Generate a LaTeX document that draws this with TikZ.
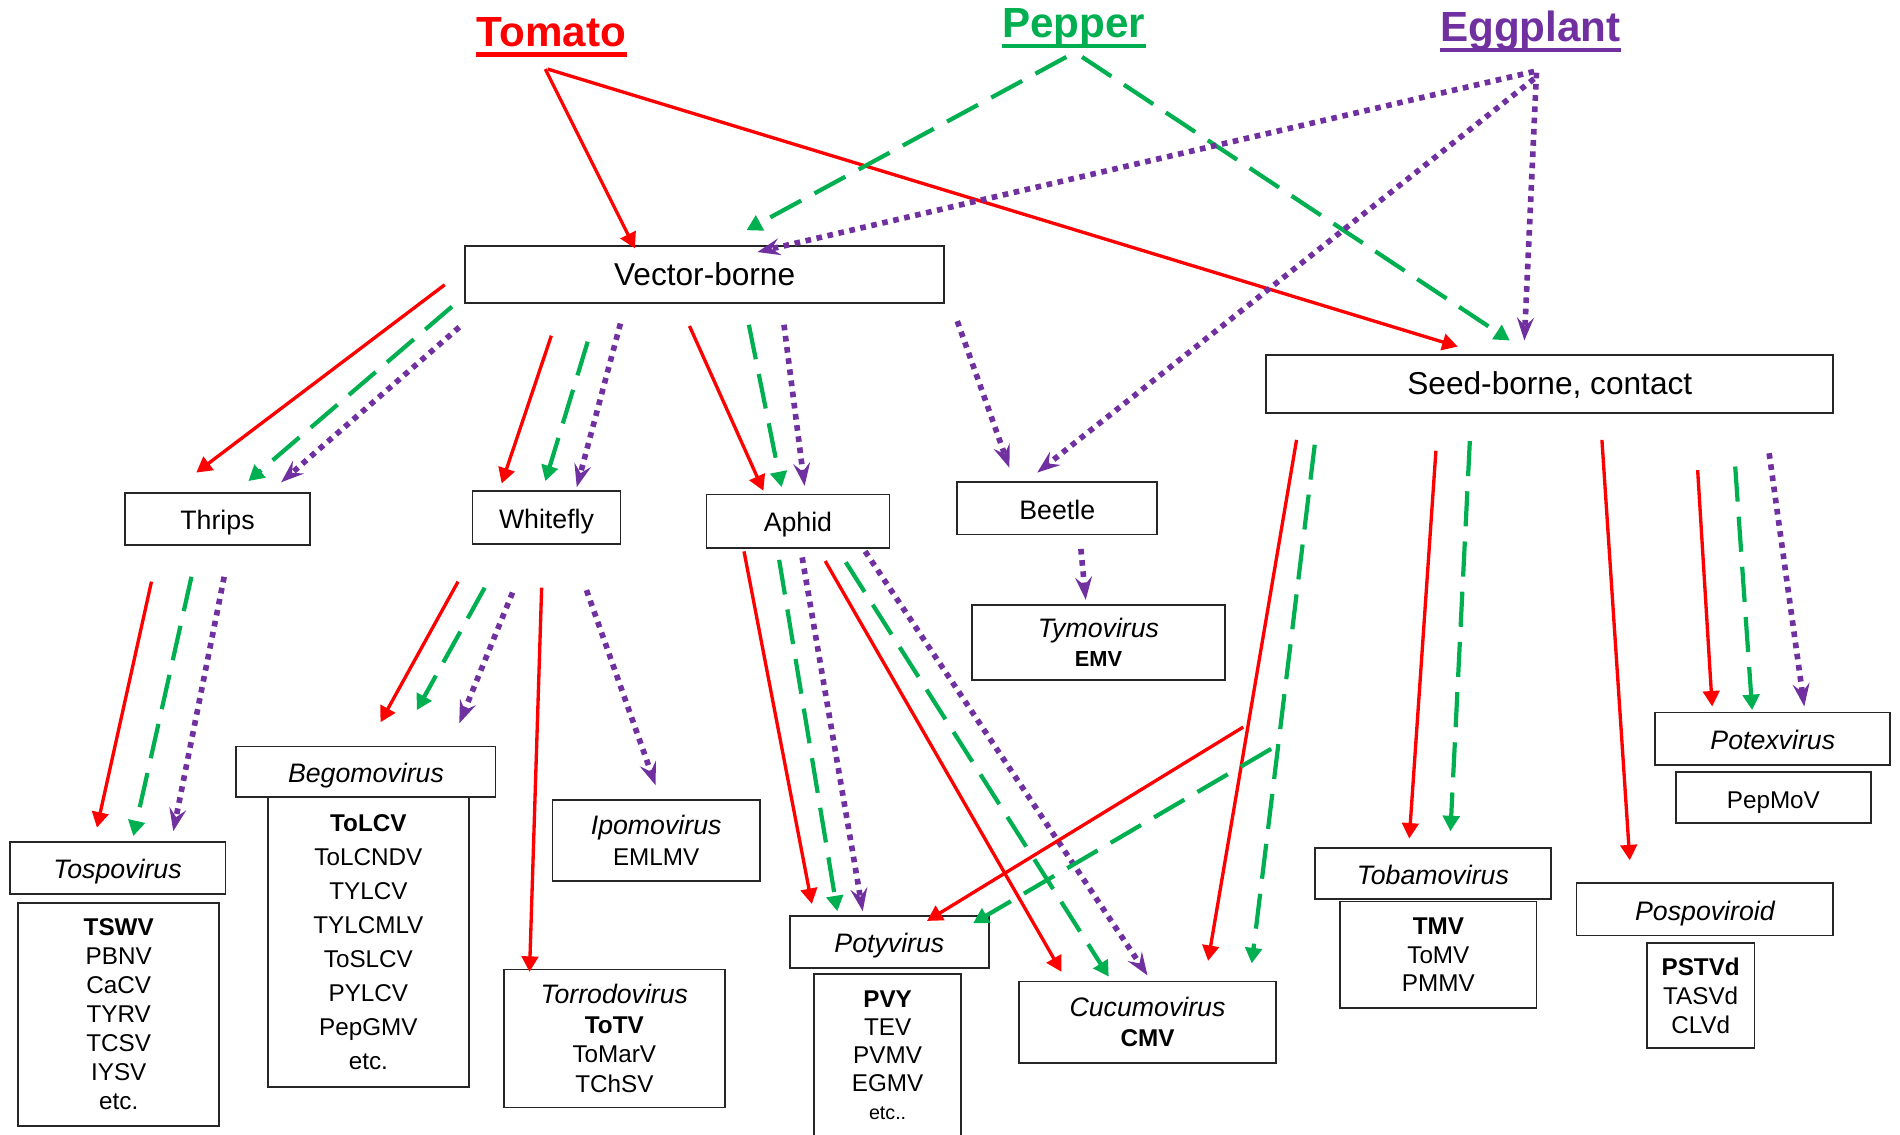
\documentclass[tikz,border=0pt]{standalone}
\usepackage{fontspec}
\setmainfont{Liberation Sans}
\usetikzlibrary{arrows.meta}
\definecolor{cred}{RGB}{255,0,0}
\definecolor{cgreen}{RGB}{0,176,80}
\definecolor{cpurple}{RGB}{112,48,160}
\begin{document}
\begin{tikzpicture}[x=0.12117mm,y=-0.12117mm,
  bx/.style n args={2}{draw=black!85,line width=0.5pt,inner sep=0pt,
     minimum width=#1*0.12117mm,minimum height=#2*0.12117mm,align=center},
  one/.style={text height=0.82em,text depth=0.212em},
  fmain/.style={one,font=\fontsize{9}{10.8}\selectfont},
  fsec/.style={one,font=\fontsize{7.6}{9}\selectfont},
  fgen/.style={one,font=\fontsize{7.6}{9}\selectfont\itshape},
  title/.style={font=\fontsize{12}{14}\selectfont\bfseries,inner sep=0pt,anchor=base},
  ra/.style={draw=cred,line width=0.95pt,-{Triangle[length=4.4pt,width=4.7pt]}},
  ga/.style={draw=cgreen,line width=1.2pt,dash pattern=on 10pt off 4.3pt,-{Triangle[length=4.4pt,width=4.7pt]}},
  pa/.style={draw=cpurple,line width=1.6pt,dash pattern=on 1.6pt off 1.6pt,-{Stealth[length=6.5pt,width=4.8pt,inset=2.4pt]}},
]
\useasboundingbox (0,0) rectangle (1568,936);
% titles
\node[title,text=cred] (tom) at (455,38) {Tomato};
\draw[cred,line width=1.2pt] (393,45) -- (517.5,45);
\node[title,text=cgreen] (pep) at (886,31) {Pepper};
\draw[cgreen,line width=1.2pt] (827,38) -- (945.5,38);
\node[title,text=cpurple] (egg) at (1263,34) {Eggplant};
\draw[cpurple,line width=1.2pt] (1188,41) -- (1338,41);
% main boxes
\node[bx={395}{47},fmain] (vb) at (581.5,226.5) {Vector-borne};
\node[bx={468}{48},fmain] (sb) at (1279,317) {Seed-borne, contact};
% vectors
\node[bx={153}{43},fsec] (thr) at (179.5,428.5) {Thrips};
\node[bx={122}{44},fsec] (wf) at (451,427) {Whitefly};
\node[bx={151}{44},fsec] (aph) at (658.5,430) {Aphid};
\node[bx={165}{43},fsec] (bee) at (872.5,419.5) {Beetle};
% genera
\node[bx={209}{62},font=\fontsize{7.6}{8.3}\selectfont] (tymo) at (906.5,530)
  {\textit{Tymovirus}\\[-0.2pt]{\fontsize{6.2}{7}\selectfont\bfseries EMV}};
\node[bx={214}{42},fgen] (begH) at (302,637) {Begomovirus};
\node[bx={166}{239},font=\fontsize{6.9}{9.65}\selectfont] (begL) at (304,777.5)
  {\textbf{ToLCV}\\ToLCNDV\\TYLCV\\TYLCMLV\\ToSLCV\\PYLCV\\PepGMV\\etc.};
\node[bx={171}{67},font=\fontsize{6.9}{8.6}\selectfont] (ipo) at (541.5,693.5)
  {{\fontsize{7.6}{8.6}\selectfont\itshape Ipomovirus}\\EMLMV};
\node[bx={182}{114},font=\fontsize{6.9}{8.4}\selectfont] (torr) at (507,857)
  {{\fontsize{7.6}{8.4}\selectfont\itshape Torrodovirus}\\\textbf{ToTV}\\ToMarV\\TChSV};
\node[bx={178}{43},fgen] (tospH) at (97,716.5) {Tospovirus};
\node[bx={166}{184},font=\fontsize{6.9}{8.27}\selectfont] (tospL) at (98,837)
  {\textbf{TSWV}\\PBNV\\CaCV\\TYRV\\TCSV\\IYSV\\etc.};
\node[bx={164}{43},fgen] (potyH) at (734,777.5) {Potyvirus};
\node[bx={121}{134},font=\fontsize{6.9}{8.0}\selectfont] (potyL) at (732.5,871)
  {\textbf{PVY}\\TEV\\PVMV\\EGMV\\{\fontsize{5.6}{8}\selectfont etc..}};
\node[bx={212}{67},font=\fontsize{7.6}{8.6}\selectfont] (cucu) at (947,843.5)
  {\textit{Cucumovirus}\\{\fontsize{6.9}{8.6}\selectfont\bfseries CMV}};
\node[bx={195}{42},fgen] (tobaH) at (1182.5,721) {Tobamovirus};
\node[bx={162}{88},font=\fontsize{6.9}{8.1}\selectfont] (tobaL) at (1187,788)
  {\textbf{TMV}\\ToMV\\PMMV};
\node[bx={212}{43},fgen] (pospH) at (1407,750.5) {Pospoviroid};
\node[bx={89}{87},font=\fontsize{6.9}{8.27}\selectfont] (pospL) at (1403.5,821.5)
  {\textbf{PSTVd}\\TASVd\\CLVd};
\node[bx={194}{43},fgen] (potxH) at (1463,609.5) {Potexvirus};
\node[bx={161}{42},one,font=\fontsize{6.9}{8.27}\selectfont] (potxL) at (1463.5,658) {PepMoV};
% hosts to transmission modes
\draw[ra] (450,57) -- (524,205);
\draw[ra] (452,57) -- (1203,286);
\draw[ga] (880,47) -- (616,190);
\draw[ga] (893,47) -- (1246,281);
\draw[pa] (1266,59) -- (625,208);
\draw[pa] (1266,65) -- (856,390);
\draw[pa] (1268,60) -- (1258,281);
% vector-borne to vectors
\draw[ra] (367,235) -- (162,390);
\draw[ga] (373,253) -- (205,397);
\draw[pa] (379,270) -- (232,398);
\draw[ra] (455,277) -- (414,399);
\draw[ga] (485,282) -- (450,397);
\draw[pa] (512,267) -- (476,402);
\draw[ra] (569,269) -- (630,405);
\draw[ga] (618,268) -- (645,402);
\draw[pa] (647,268) -- (664,401);
\draw[pa] (790,265) -- (833,386);
\draw[pa] (892,453) -- (896,495);
% vectors to genera
\draw[ra] (125,480) -- (80,683);
\draw[ga] (158,476) -- (110,690);
\draw[pa] (185,476) -- (143,686);
\draw[ra] (378,480) -- (314,596);
\draw[ga] (400,485) -- (344,586);
\draw[pa] (423,489) -- (379,597);
\draw[ra] (447,485) -- (437,802);
\draw[pa] (484,487) -- (541,648);
\draw[ra] (614,455) -- (670,746);
\draw[ga] (643,462) -- (691,752);
\draw[pa] (662,460) -- (712,752);
\draw[ra] (681,463) -- (876,802);
\draw[ga] (698,464) -- (915,806);
\draw[pa] (714,455) -- (947,805);
% seed-borne to genera
\draw[ra] (1070,363) -- (997,793);
\draw[ga] (1085,367) -- (1033,795);
\draw[ra] (1026,600) -- (765,760);
\draw[ga] (1049,618) -- (803,762);
\draw[ra] (1185,372) -- (1163,692);
\draw[ga] (1213,364) -- (1197,686);
\draw[ra] (1322,363) -- (1345,710);
\draw[ra] (1401,388) -- (1413,583);
\draw[ga] (1432,385) -- (1446,586);
\draw[pa] (1460,374) -- (1489,583);
\end{tikzpicture}
\end{document}
